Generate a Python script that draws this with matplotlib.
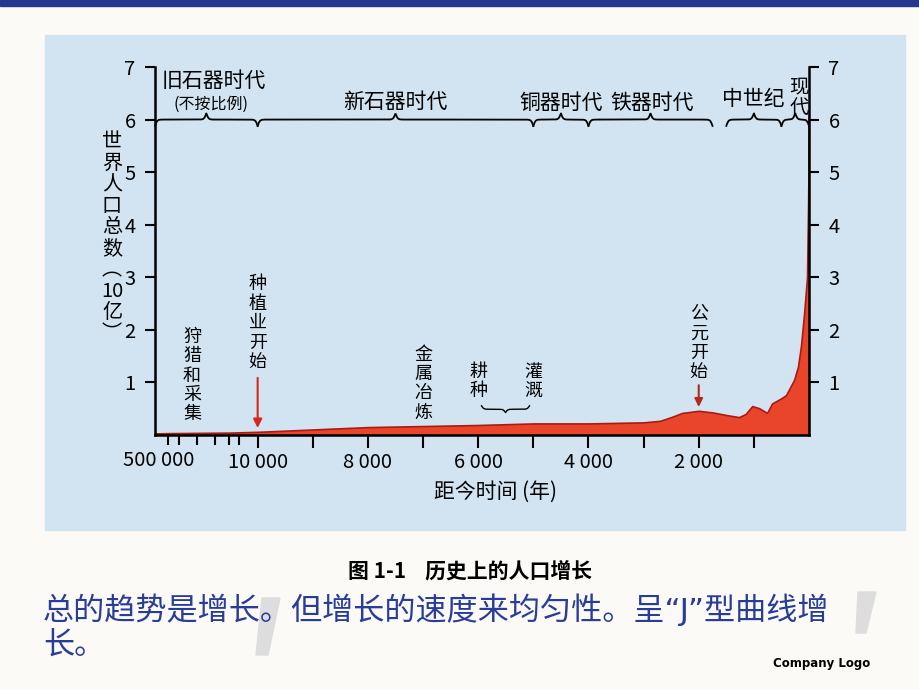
import numpy as np
import matplotlib.pyplot as plt
from matplotlib.patches import Rectangle, Polygon

plt.rcParams['font.family'] = ['Noto Sans CJK SC', 'DejaVu Sans']

# 距今年数 / 世界人口(10亿)
years_ago = [500000, 300000, 100000, 30000, 10000, 8000, 6000, 5000, 4000, 3000,
             2700, 2500, 2300, 2000, 1750, 1500, 1270, 1150, 1030, 905,
             760, 670, 500, 416, 270, 200, 145, 90, 36, 15, 0]
population = [0.03, 0.035, 0.04, 0.045, 0.06, 0.15, 0.19, 0.22, 0.22, 0.24,
              0.27, 0.34, 0.42, 0.46, 0.43, 0.38, 0.34, 0.4, 0.55, 0.51,
              0.42, 0.6, 0.7, 0.76, 1.05, 1.3, 1.7, 2.3, 3.0, 4.5, 6.1]

x_ticks = [10000, 9000, 8000, 7000, 6000, 5000, 4000, 3000, 2000, 1000]
x_labels = ['10 000', '', '8 000', '', '6 000', '', '4 000', '', '2 000', '']
far_ticks = [300000, 200000, 100000, 50000, 30000, 20000]
y_ticks = [1, 2, 3, 4, 5, 6, 7]

eras = ['旧石器时代', '新石器时代', '铜器时代', '铁器时代', '中世纪', '现代']
era_start = [500000, 10000, 5000, 4000, 1500, 500]
era_end = [10000, 5000, 4000, 1750, 500, 0]

W, H = 920, 690
SQUEEZE = 1862.0   # 500000 -> 10000 compressed ("不按比例")


def fwd(t):
    t = np.asarray(t, dtype=float)
    far = -1e4 - SQUEEZE * np.log(np.maximum(-t, 1e4) / 1e4) / np.log(50)
    return np.where(t >= -1e4, t, far)


def inv(p):
    p = np.asarray(p, dtype=float)
    far = -1e4 * np.exp(np.maximum(-1e4 - p, 0) * np.log(50) / SQUEEZE)
    return np.where(p >= -1e4, p, far)


def fx(px):
    return px / W


def fy(py):
    return 1 - py / H


fig = plt.figure(figsize=(9.2, 6.9), dpi=100, facecolor='#fbfaf6')
fig.patches.append(Rectangle((0, fy(6)), 1, 6 / H, transform=fig.transFigure,
                             color='#24398c', zorder=-2))
fig.patches.append(Rectangle((fx(45), fy(530)), fx(905) - fx(45), (530 - 35) / H,
                             transform=fig.transFigure, color='#d2e4f2', zorder=-2))
for pts in ([(262, 598), (280, 598), (268, 655), (256, 655)],
            [(858, 592), (876, 592), (866, 633), (856, 633)]):
    fig.patches.append(Polygon([(fx(a), fy(b)) for a, b in pts], closed=True,
                               transform=fig.transFigure, color='#dddddd', zorder=-2))

ax = fig.add_axes([fx(155), fy(435), fx(809) - fx(155), (435 - 67) / H])
ax.set_facecolor('none')
ax.set_xscale('function', functions=(fwd, inv))
ax.set_xlim(-500000, 0)
ax.set_ylim(0, 7)

t = -np.array(years_ago, dtype=float)
ax.fill_between(t, 0, population, facecolor='#e8452a', edgecolor='#a81c12', lw=1.2, zorder=2)

for s in ['left', 'right', 'bottom']:
    ax.spines[s].set_linewidth(1.8)
ax.spines['top'].set_visible(False)

ax.set_xticks([-v for v in x_ticks])
ax.set_xticklabels(x_labels)
ax.set_xticks([-v for v in far_ticks], minor=True)
ax.tick_params(axis='x', which='major', length=9, width=1.5, pad=3, labelsize=14.5)
ax.tick_params(axis='x', which='minor', length=7, width=1.5)
fig.text(fx(123), fy(460), '500 000', ha='left', va='center', fontsize=14.5)

ax.set_yticks(y_ticks)
ax.set_yticklabels([str(v) for v in y_ticks])
ax.tick_params(axis='y', length=7, width=1.5, labelsize=14.5, right=True,
               labelright=True, pad=7)


# era braces along the top
def brace(t0, t1, y, amp, up=True, beta=0.05, lw=1.3):
    p0, p1 = float(fwd(t0)), float(fwd(t1))
    p = np.linspace(p0, p1, 500)
    half = (p1 - p0) / 2
    d = np.minimum(p - p0, p1 - p)
    s = 1 / (1 + np.exp(-beta * d)) + 1 / (1 + np.exp(-beta * (d - half)))
    yy = y + amp * (s - 1) * (1 if up else -1)
    ax.plot(inv(p), yy, color='black', lw=lw, clip_on=False, zorder=3)


for a, b in zip(era_start, era_end):
    brace(-a, -b, 6.0, 0.24)

era_px = [214, 395, 561, 652, 753]
era_py = [81, 102, 103, 103, 99]
for name, px, py in zip(eras[:5], era_px, era_py):
    fig.text(fx(px), fy(py), name, ha='center', va='center', fontsize=15)
fig.text(fx(211), fy(104), '(不按比例)', ha='center', va='center', fontsize=11.5)
fig.text(fx(799), fy(97), '\n'.join(eras[5]), ha='center', va='center',
         fontsize=14, linespacing=1.0)


# event labels
def vtext(x, y, s, size=13, ls=1.1):
    ax.text(x, y, '\n'.join(s), ha='center', va='bottom', fontsize=size,
            linespacing=ls, zorder=4)


vtext(-122000, 0.22, '狩猎和采集')
vtext(-10000, 1.22, '种植业开始')
vtext(-7000, 0.25, '金属冶炼')
vtext(-6000, 0.66, '耕种')
vtext(-5000, 0.66, '灌溉')
vtext(-2000, 1.02, '公元开始')
brace(-5940, -5070, 0.49, 0.13, up=False, lw=1.0)

ax.annotate('', xy=(-10000, 0.08), xytext=(-10000, 1.14),
            arrowprops=dict(arrowstyle='-|>', color='#d8281c', lw=1.5, mutation_scale=13))
ax.annotate('', xy=(-2000, 0.48), xytext=(-2000, 1.0),
            arrowprops=dict(arrowstyle='-|>', color='#b3281c', lw=1.5, mutation_scale=12))

fig.text(fx(112), fy(238), '世\n界\n人\n口\n总\n数\n︵\n10\n亿\n︶', ha='center',
         va='center', fontsize=14.5, linespacing=1.02)
fig.text(fx(496), fy(492), '距今时间 (年)', ha='center', va='center', fontsize=15)

fig.text(fx(470), fy(571), '图 1-1    历史上的人口增长', ha='center', va='center',
         fontsize=15, fontweight='bold')
blue = dict(ha='left', va='center', fontsize=22.4, color='#283c9a',
            family=['DejaVu Sans', 'Noto Sans CJK SC'])
fig.text(fx(43), fy(610), '总的趋势是增长。但增长的速度来均匀性。呈“J”型曲线增', **blue)
fig.text(fx(43), fy(645), '长。', **blue)
fig.text(fx(870), fy(664), 'Company Logo', ha='right', va='center', fontsize=8.5,
         fontweight='bold', family=['DejaVu Sans'])

fig.savefig('out.png', dpi=100, facecolor=fig.get_facecolor())
